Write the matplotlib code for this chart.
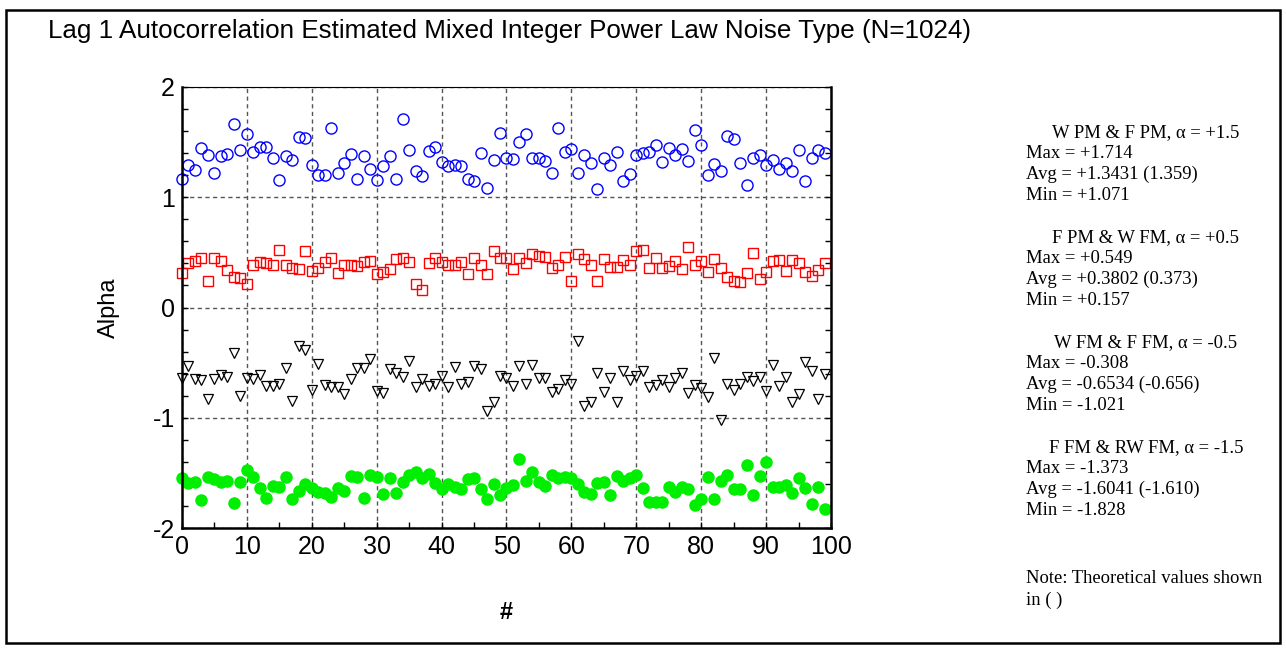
import matplotlib
matplotlib.use('Agg')
import matplotlib.pyplot as plt
import numpy as np
from matplotlib.patches import Rectangle
from matplotlib.ticker import MultipleLocator

# lag 1 alpha estimates, one per run
alpha_wpm_fpm = [1.17, 1.29, 1.25, 1.445, 1.385, 1.22, 1.37, 1.39, 1.66, 1.43,
                 1.57, 1.41, 1.46, 1.46, 1.36, 1.16, 1.37, 1.34, 1.545, 1.54,
                 1.29, 1.20, 1.20, 1.63, 1.22, 1.315, 1.39, 1.17, 1.37, 1.26,
                 1.16, 1.28, 1.37, 1.17, 1.714, 1.43, 1.24, 1.19, 1.42, 1.46,
                 1.32, 1.28, 1.29, 1.28, 1.17, 1.15, 1.40, 1.085, 1.34, 1.58,
                 1.36, 1.345, 1.50, 1.57, 1.36, 1.36, 1.33, 1.22, 1.63, 1.41,
                 1.44, 1.22, 1.38, 1.31, 1.071, 1.36, 1.29, 1.41, 1.15, 1.21,
                 1.38, 1.40, 1.41, 1.47, 1.32, 1.445, 1.38, 1.44, 1.33, 1.61,
                 1.47, 1.20, 1.30, 1.24, 1.56, 1.53, 1.31, 1.11, 1.36, 1.38,
                 1.29, 1.34, 1.26, 1.31, 1.24, 1.43, 1.15, 1.36, 1.43, 1.40]
alpha_fpm_wfm = [0.31, 0.40, 0.42, 0.45, 0.24, 0.45, 0.42, 0.34, 0.275, 0.27,
                 0.215, 0.39, 0.41, 0.40, 0.39, 0.525, 0.39, 0.36, 0.35, 0.51,
                 0.33, 0.36, 0.41, 0.45, 0.31, 0.39, 0.39, 0.375, 0.41, 0.42,
                 0.30, 0.32, 0.35, 0.44, 0.45, 0.41, 0.21, 0.157, 0.40, 0.45,
                 0.41, 0.39, 0.385, 0.41, 0.30, 0.45, 0.39, 0.30, 0.51, 0.45,
                 0.45, 0.35, 0.445, 0.40, 0.485, 0.47, 0.455, 0.36, 0.39, 0.46,
                 0.236, 0.485, 0.44, 0.39, 0.24, 0.44, 0.37, 0.37, 0.43, 0.385,
                 0.515, 0.525, 0.36, 0.445, 0.355, 0.375, 0.42, 0.35, 0.549, 0.39,
                 0.42, 0.325, 0.44, 0.355, 0.28, 0.24, 0.235, 0.315, 0.49, 0.26,
                 0.32, 0.42, 0.43, 0.33, 0.43, 0.40, 0.32, 0.285, 0.34, 0.40]
alpha_wfm_ffm = [-0.64, -0.53, -0.645, -0.66, -0.83, -0.65, -0.61, -0.63, -0.41, -0.80,
                 -0.64, -0.65, -0.61, -0.715, -0.715, -0.69, -0.55, -0.85, -0.345, -0.39,
                 -0.75, -0.51, -0.70, -0.72, -0.72, -0.785, -0.65, -0.55, -0.55, -0.47,
                 -0.76, -0.775, -0.56, -0.595, -0.63, -0.485, -0.72, -0.65, -0.715, -0.69,
                 -0.62, -0.72, -0.54, -0.69, -0.68, -0.53, -0.555, -0.935, -0.86, -0.625,
                 -0.635, -0.71, -0.535, -0.695, -0.52, -0.64, -0.635, -0.765, -0.74, -0.66,
                 -0.69, -0.308, -0.89, -0.855, -0.595, -0.765, -0.64, -0.855, -0.575, -0.66,
                 -0.625, -0.58, -0.72, -0.70, -0.66, -0.72, -0.64, -0.595, -0.78, -0.70,
                 -0.73, -0.815, -0.46, -1.021, -0.69, -0.745, -0.695, -0.63, -0.67, -0.63,
                 -0.76, -0.52, -0.71, -0.63, -0.86, -0.785, -0.495, -0.58, -0.83, -0.60]
alpha_ffm_rwfm = [-1.55, -1.59, -1.585, -1.745, -1.535, -1.555, -1.58, -1.57, -1.775, -1.58,
                  -1.47, -1.54, -1.635, -1.725, -1.62, -1.625, -1.54, -1.735, -1.66, -1.60,
                  -1.64, -1.67, -1.685, -1.72, -1.64, -1.66, -1.53, -1.535, -1.73, -1.515,
                  -1.535, -1.69, -1.55, -1.68, -1.585, -1.52, -1.49, -1.55, -1.51, -1.595,
                  -1.65, -1.605, -1.625, -1.65, -1.56, -1.545, -1.65, -1.735, -1.605, -1.70,
                  -1.635, -1.61, -1.373, -1.57, -1.49, -1.58, -1.62, -1.515, -1.55, -1.535,
                  -1.545, -1.60, -1.675, -1.695, -1.595, -1.585, -1.70, -1.53, -1.57, -1.545,
                  -1.52, -1.64, -1.765, -1.765, -1.765, -1.625, -1.67, -1.625, -1.65, -1.79,
                  -1.735, -1.535, -1.74, -1.575, -1.515, -1.65, -1.65, -1.425, -1.70, -1.53,
                  -1.40, -1.63, -1.625, -1.61, -1.68, -1.545, -1.635, -1.78, -1.63, -1.828]

run_index = np.arange(len(alpha_wpm_fpm))

stats_headers = ['W PM & F PM, \u03b1 = +1.5', 'F PM & W FM, \u03b1 = +0.5',
                 'W FM & F FM, \u03b1 = -0.5', 'F FM & RW FM, \u03b1 = -1.5']
stats_max = ['+1.714', '+0.549', '-0.308', '-1.373']
stats_avg = ['+1.3431 (1.359)', '+0.3802 (0.373)', '-0.6534 (-0.656)', '-1.6041 (-1.610)']
stats_min = ['+1.071', '+0.157', '-1.021', '-1.828']

W, H = 1286, 648
plt.rcParams['font.family'] = ['Liberation Sans', 'DejaVu Sans']
plt.rcParams['axes.unicode_minus'] = False
fig = plt.figure(figsize=(W / 100, H / 100), dpi=100)

# frame round the whole picture
fig.patches.append(Rectangle((6 / W, 1 - 643 / H), 1274 / W, 633.5 / H, transform=fig.transFigure,
                             fill=False, edgecolor='black', linewidth=1.8))

ax = fig.add_axes([182 / W, 1 - 528 / H, 649 / W, 441 / H])
ax.plot(run_index, alpha_wpm_fpm, 'o', mfc='none', mec='#0000ff', ms=8, mew=1.0, clip_on=False)
ax.plot(run_index, alpha_fpm_wfm, 's', mfc='none', mec='#ff0000', ms=7.0, mew=1.0, clip_on=False)
ax.plot(run_index, alpha_wfm_ffm, 'v', mfc='none', mec='black', ms=7.5, mew=0.9, clip_on=False)
ax.plot(run_index, alpha_ffm_rwfm, 'o', mfc='#00ee00', mec='#00ee00', ms=8, clip_on=False)

ax.set_xlim(0, 100)
ax.set_ylim(-2, 2)
ax.xaxis.set_major_locator(MultipleLocator(10))
ax.xaxis.set_minor_locator(MultipleLocator(5))
ax.yaxis.set_major_locator(MultipleLocator(1))
ax.yaxis.set_minor_locator(MultipleLocator(0.2))
ax.tick_params(which='both', direction='in', right=True, labelsize=18, pad=5)
ax.tick_params(which='major', length=4, width=1)
ax.tick_params(which='minor', length=4, width=1)
ax.grid(True, which='major', linestyle=(0, (3, 2.5)), color='#555555', linewidth=1.0)
for side in ['left', 'bottom', 'right']:
    ax.spines[side].set_linewidth(1.8)
ax.spines['top'].set_linewidth(0.8)

ax.set_ylabel('Alpha', fontsize=17, labelpad=24)
ax.set_xlabel('#', fontsize=17, fontweight='bold', labelpad=30)

fig.text(48 / W, 1 - 38 / H, 'Lag 1 Autocorrelation Estimated Mixed Integer Power Law Noise Type (N=1024)',
         fontsize=18.7, ha='left', va='baseline')

# stats block on the right, Times-like serif
serif = ['Liberation Serif', 'DejaVu Serif']
fs = 13.4
pitch = 21
for k in range(4):
    base = 136.7 + k * 5 * pitch
    fig.text(1146 / W, 1 - base / H, stats_headers[k], family=serif, fontsize=fs, ha='center', va='baseline')
    fig.text(1026 / W, 1 - (base + pitch) / H, 'Max = ' + stats_max[k], family=serif, fontsize=fs, va='baseline')
    fig.text(1026 / W, 1 - (base + 2 * pitch) / H, 'Avg = ' + stats_avg[k], family=serif, fontsize=fs, va='baseline')
    fig.text(1026 / W, 1 - (base + 3 * pitch) / H, 'Min = ' + stats_min[k], family=serif, fontsize=fs, va='baseline')
fig.text(1026 / W, 1 - 583 / H, 'Note: Theoretical values shown', family=serif, fontsize=fs, va='baseline')
fig.text(1026 / W, 1 - 605 / H, 'in ( )', family=serif, fontsize=fs, va='baseline')

fig.savefig('out.png', dpi=100)
